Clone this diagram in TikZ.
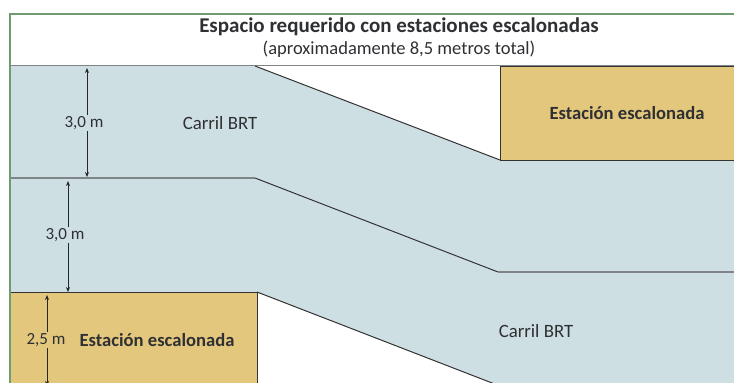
\documentclass[tikz,border=0pt]{standalone}
\usepackage{fontspec}
\setmainfont{Carlito}
\usetikzlibrary{arrows.meta}
\definecolor{lanefill}{HTML}{CEDFE3}
\definecolor{stationfill}{HTML}{E3C77D}
\definecolor{framegreen}{HTML}{6E9B70}
\definecolor{linegray}{HTML}{7F8486}
\definecolor{textgray}{HTML}{2F3033}
\tikzset{
  lbl/.style={text=textgray, font=\fontsize{18.8}{20}\selectfont},
  stlbl/.style={text=textgray, font=\bfseries\fontsize{18.6}{20}\selectfont},
  dimlbl/.style={text=textgray, font=\fontsize{17}{19}\selectfont, inner sep=1pt},
  dim/.style={-{Stealth[length=5pt,width=4pt]}, line width=0.9pt, black!85},
  edge/.style={line width=1pt, black!80},
}
\begin{document}
\begin{tikzpicture}[x=1pt,y=-1pt]
            \useasboundingbox (0,0) rectangle (734,383);
            \begin{scope}
            \clip (0,0) rectangle (734,383);
            % lanes
            \fill[lanefill] (10,66) -- (255,66) -- (500,160) -- (740,160) -- (740,390)
                -- (510,390) -- (257,292) -- (10,292) -- cycle;
            % stations
            \filldraw[fill=stationfill, draw=black!80, line width=1pt] (500,66) rectangle (740,160);
            \filldraw[fill=stationfill, draw=black!80, line width=1pt] (10,292) rectangle (257,390);
            % lane edges
            \draw[linegray, line width=1.2pt] (10,65.5) -- (740,65.5);
            \draw[edge] (255,66) -- (500,160);
            \draw[linegray, line width=1.2pt] (10,178) -- (255,178);
            \draw[edge] (255,178) -- (498,272);
            \draw[linegray, line width=1.2pt] (498,272) -- (740,272);
            \draw[edge] (257,292) -- (505,388);
            % frame
            \draw[framegreen, line width=1.3pt] (10,390) -- (10,14) -- (740,14);
            \end{scope}

            \node (title) at (399,27) {\fontsize{21}{23}\selectfont\bfseries\color{textgray}Espacio requerido con estaciones escalonadas};
            \node (sub) at (399,49.5) {\fontsize{18.5}{21}\selectfont\color{textgray}(aproximadamente 8,5 metros total)};

            \node[lbl] (brt1) at (220,123) {Carril BRT};
            \node[lbl] (brt2) at (536,331) {Carril BRT};
            \node[stlbl] (st1) at (627,113) {Estación escalonada};
            \node[stlbl] (st2) at (157,340) {Estación escalonada};

            \node[dimlbl] (d1) at (84,123) {3,0 m};
            \node[dimlbl] (d2) at (65,235) {3,0 m};
            \node[dimlbl] (d3) at (46,340) {2,5 m};
            \coordinate (d1t) at (87,68);
            \coordinate (d1b) at (87,177);
            \coordinate (d2t) at (68,181);
            \coordinate (d2b) at (68,292);
            \coordinate (d3t) at (47,295);
            \coordinate (d3b) at (47,386);

            \draw[dim] (d1t |- d1.north) -- (d1t);
            \draw[dim] (d1b |- d1.south) -- (d1b);
            \draw[dim] (d2t |- d2.north) -- (d2t);
            \draw[dim] (d2b |- d2.south) -- (d2b);
            \draw[dim] (d3t |- d3.north) -- (d3t);
            \draw[dim] (d3b |- d3.south) -- (d3b);
        \end{tikzpicture}
\end{document}
